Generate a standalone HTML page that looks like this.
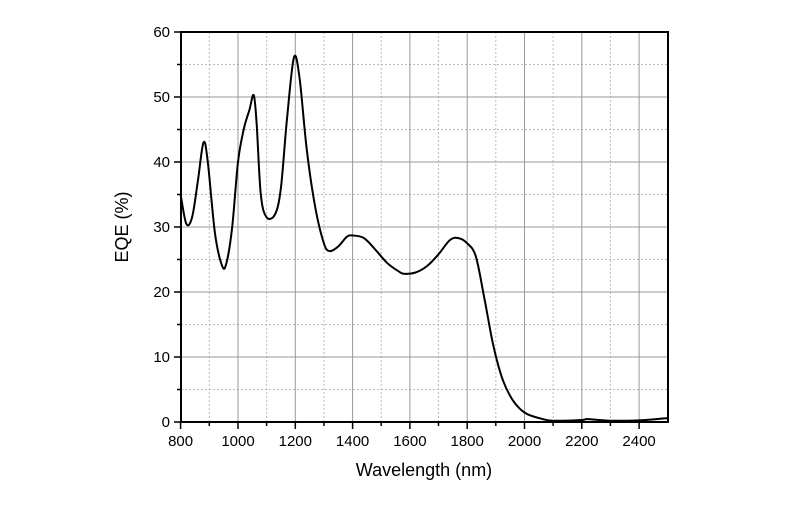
<!DOCTYPE html>
<html><head><style>body{margin:0;background:#fff}</style></head><body>
<svg width="800" height="500" xmlns="http://www.w3.org/2000/svg" font-family="Liberation Sans, Arial, sans-serif">
<rect width="800" height="500" fill="#fff"/>
<g stroke="#bbb" stroke-width="1" stroke-dasharray="2,2">
<line x1="209.3" y1="32" x2="209.3" y2="422"/><line x1="266.6" y1="32" x2="266.6" y2="422"/><line x1="323.9" y1="32" x2="323.9" y2="422"/><line x1="381.2" y1="32" x2="381.2" y2="422"/><line x1="438.5" y1="32" x2="438.5" y2="422"/><line x1="495.8" y1="32" x2="495.8" y2="422"/><line x1="553.1" y1="32" x2="553.1" y2="422"/><line x1="610.4" y1="32" x2="610.4" y2="422"/>
<line x1="181" y1="389.5" x2="668" y2="389.5"/><line x1="181" y1="324.5" x2="668" y2="324.5"/><line x1="181" y1="259.5" x2="668" y2="259.5"/><line x1="181" y1="194.5" x2="668" y2="194.5"/><line x1="181" y1="129.5" x2="668" y2="129.5"/><line x1="181" y1="64.5" x2="668" y2="64.5"/>
</g>
<g stroke="#999" stroke-width="1">
<line x1="238" y1="32" x2="238" y2="422"/><line x1="295.3" y1="32" x2="295.3" y2="422"/><line x1="352.6" y1="32" x2="352.6" y2="422"/><line x1="409.9" y1="32" x2="409.9" y2="422"/><line x1="467.2" y1="32" x2="467.2" y2="422"/><line x1="524.5" y1="32" x2="524.5" y2="422"/><line x1="581.8" y1="32" x2="581.8" y2="422"/><line x1="639.1" y1="32" x2="639.1" y2="422"/>
<line x1="181" y1="357" x2="668" y2="357"/><line x1="181" y1="292" x2="668" y2="292"/><line x1="181" y1="227" x2="668" y2="227"/><line x1="181" y1="162" x2="668" y2="162"/><line x1="181" y1="97" x2="668" y2="97"/>
</g>
<rect x="181" y="32" width="487" height="390" fill="none" stroke="#000" stroke-width="2"/>
<g stroke="#000" stroke-width="1.5">
<line x1="180.6" y1="422" x2="180.6" y2="429"/><line x1="238" y1="422" x2="238" y2="429"/><line x1="295.3" y1="422" x2="295.3" y2="429"/><line x1="352.6" y1="422" x2="352.6" y2="429"/><line x1="409.9" y1="422" x2="409.9" y2="429"/><line x1="467.2" y1="422" x2="467.2" y2="429"/><line x1="524.5" y1="422" x2="524.5" y2="429"/><line x1="581.8" y1="422" x2="581.8" y2="429"/><line x1="639.1" y1="422" x2="639.1" y2="429"/>
<line x1="209.3" y1="422" x2="209.3" y2="426"/><line x1="266.6" y1="422" x2="266.6" y2="426"/><line x1="323.9" y1="422" x2="323.9" y2="426"/><line x1="381.2" y1="422" x2="381.2" y2="426"/><line x1="438.5" y1="422" x2="438.5" y2="426"/><line x1="495.8" y1="422" x2="495.8" y2="426"/><line x1="553.1" y1="422" x2="553.1" y2="426"/><line x1="610.4" y1="422" x2="610.4" y2="426"/>
<line x1="174" y1="422" x2="181" y2="422"/><line x1="174" y1="357" x2="181" y2="357"/><line x1="174" y1="292" x2="181" y2="292"/><line x1="174" y1="227" x2="181" y2="227"/><line x1="174" y1="162" x2="181" y2="162"/><line x1="174" y1="97" x2="181" y2="97"/><line x1="174" y1="32" x2="181" y2="32"/>
<line x1="177" y1="389.5" x2="181" y2="389.5"/><line x1="177" y1="324.5" x2="181" y2="324.5"/><line x1="177" y1="259.5" x2="181" y2="259.5"/><line x1="177" y1="194.5" x2="181" y2="194.5"/><line x1="177" y1="129.5" x2="181" y2="129.5"/><line x1="177" y1="64.5" x2="181" y2="64.5"/>
</g>
<path id="curve" fill="none" stroke="#000" stroke-width="2" stroke-linejoin="round" d="M180.6,194.5 L186.3,223.8 L192.1,217.3 L197.8,181.5 L203.5,142.5 L207.8,162 L215,233.5 L222.2,266 L226.5,262.8 L232.2,227 L238,162 L243.7,129.5 L249.4,110 L253.7,95.1 L256.6,123 L260.8,194.5 L266.6,217.3 L275.2,214 L280.9,188 L286.6,123 L293.8,58 L299.5,77.5 L306.7,149 L315.3,207.5 L323.9,243.3 L329.6,251.1 L338.2,246.5 L346.8,236.8 L352.6,235.5 L364,238.1 L375.5,249.8 L387,262.8 L398.4,271.2 L404.1,273.8 L415.6,272.5 L427.1,266 L438.5,254.3 L450,240 L458.6,238.1 L467.2,243.3 L475.8,256.3 L484.4,298.5 L493,344 L501.6,376.5 L510.2,396 L518.8,407.7 L527.4,414.2 L541.7,418.8 L553.2,420.7 L581.8,420 L587.6,419.1 L610.5,420.7 L639.2,420.4 L667.8,418.1"/>
<g font-size="15" fill="#000" text-anchor="middle">
<text x="180.6" y="446">800</text><text x="238" y="446">1000</text><text x="295.3" y="446">1200</text><text x="352.6" y="446">1400</text><text x="409.9" y="446">1600</text><text x="467.2" y="446">1800</text><text x="524.5" y="446">2000</text><text x="581.8" y="446">2200</text><text x="639.1" y="446">2400</text>
</g>
<g font-size="15" fill="#000" text-anchor="end">
<text x="170" y="427">0</text><text x="170" y="362">10</text><text x="170" y="297">20</text><text x="170" y="232">30</text><text x="170" y="167">40</text><text x="170" y="102">50</text><text x="170" y="37">60</text>
</g>
<text x="424" y="476" font-size="18" text-anchor="middle">Wavelength (nm)</text>
<text x="0" y="0" font-size="18" text-anchor="middle" transform="translate(128,227) rotate(-90)">EQE (%)</text>
</svg>
<script>
(function(){
var p=document.getElementById('curve');
var pts=p.getAttribute('d').replace(/[ML]/g,' ').trim().split(/\s+/).map(function(s){var a=s.split(',');return [+a[0],+a[1]];});
var d='M'+pts[0][0]+','+pts[0][1];
for(var i=0;i<pts.length-1;i++){
var p0=pts[i-1]||pts[i],p1=pts[i],p2=pts[i+1],p3=pts[i+2]||p2;
var c1x=p1[0]+(p2[0]-p0[0])/6,c1y=p1[1]+(p2[1]-p0[1])/6;
var c2x=p2[0]-(p3[0]-p1[0])/6,c2y=p2[1]-(p3[1]-p1[1])/6;
d+=' C'+c1x.toFixed(1)+','+c1y.toFixed(1)+' '+c2x.toFixed(1)+','+c2y.toFixed(1)+' '+p2[0]+','+p2[1];
}
p.setAttribute('d',d);
})();
</script>
</body></html>
